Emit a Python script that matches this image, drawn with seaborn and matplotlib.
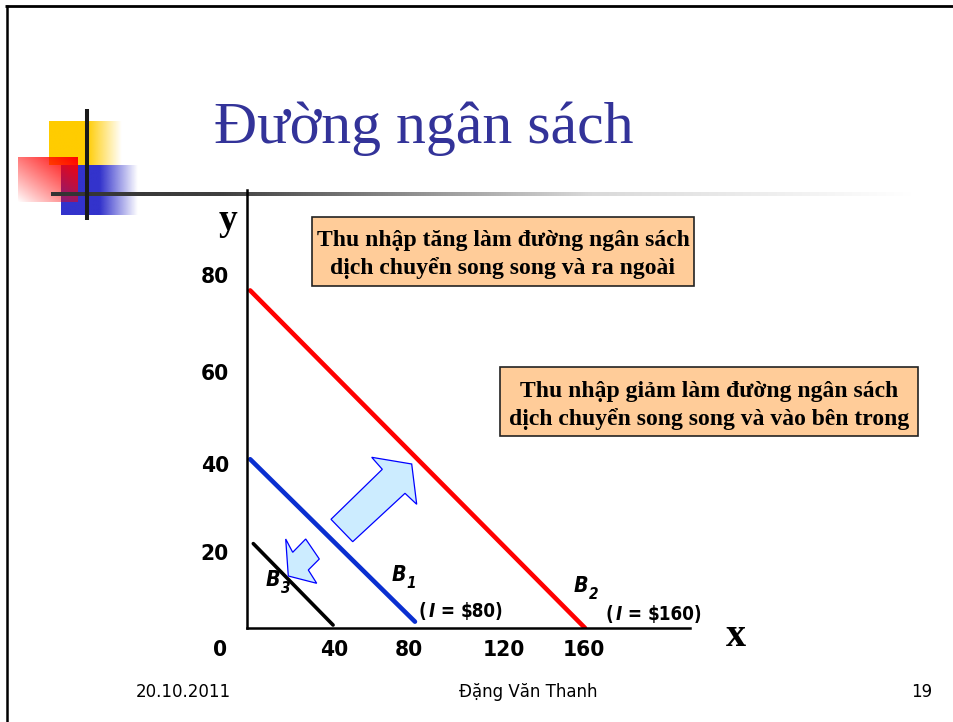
import numpy as np
import pandas as pd
import matplotlib
matplotlib.use("Agg")
import matplotlib.pyplot as plt
import seaborn as sns
from matplotlib import font_manager as fm
from matplotlib.patches import Polygon, Rectangle
from matplotlib.lines import Line2D
from matplotlib.transforms import ScaledTranslation

# ---------------- data ----------------
b1_x = [1.5, 80.0]
b1_y = [40.0, 1.5]
b2_x = [1.5, 161.0]
b2_y = [80.0, 0.0]
b3_x = [3.0, 41.0]
b3_y = [20.0, 0.7]
line_names = ["B1", "B2", "B3"]
line_colors = ["#0a2fd0", "#ff0000", "#000000"]
x_ticks = [40, 80, 120, 160]
y_ticks = [20, 40, 60, 80]
income_b1 = "$80)"
income_b2 = "$160)"
title_text = "Đường ngân sách"
box1_lines = ["Thu nhập tăng làm đường ngân sách", "dịch chuyển song song và ra ngoài"]
box2_lines = ["Thu nhập giảm làm đường ngân sách", "dịch chuyển song song và vào bên trong"]
footer_left = "20.10.2011"
footer_mid = "Đặng Văn Thanh"
footer_right = "19"

df = pd.DataFrame({
    "x": b1_x + b2_x + b3_x,
    "y": b1_y + b2_y + b3_y,
    "line": [line_names[0]] * 2 + [line_names[1]] * 2 + [line_names[2]] * 2,
})

sns.set_theme(style="white")
plt.rcParams["font.family"] = ["DejaVu Sans"]
plt.rcParams["text.color"] = "black"
plt.rcParams["xtick.color"] = "black"
plt.rcParams["ytick.color"] = "black"

# pick a condensed bold sans if one is installed
ttf = fm.fontManager.ttflist
names = {f.name for f in ttf}
NARROW = dict(family=["Liberation Sans", "DejaVu Sans"])
nscale = 0.9
if "Liberation Sans Narrow" in names:
    NARROW = dict(family=["Liberation Sans Narrow", "DejaVu Sans"])
    nscale = 1.0
else:
    cond = [f for f in ttf if f.name == "DejaVu Sans" and str(f.stretch) in ("condensed", "semi-condensed", "75", "87")]
    if cond:
        NARROW = dict(family=["DejaVu Sans"], fontstretch="condensed")
        nscale = 0.9
SERIF = ["Liberation Serif", "DejaVu Serif"]

W, H = 954, 722
fig = plt.figure(figsize=(W / 100, H / 100), dpi=100)
fig.patch.set_facecolor("white")

# ---------------- background decorations (pixel coords) ----------------
bg = fig.add_axes([0, 0, 1, 1], zorder=0)
bg.set_xlim(0, W)
bg.set_ylim(H, 0)
bg.axis("off")


def hgrad(ax, x0, x1, y0, y1, rgb, solid_to, z):
    n = 200
    xs = np.linspace(x0, x1, n)
    a = np.clip((x1 - xs) / (x1 - solid_to), 0, 1)
    img = np.zeros((1, n, 4))
    img[..., :3] = rgb
    img[0, :, 3] = a
    ax.imshow(img, extent=(x0, x1, y1, y0), aspect="auto", zorder=z, interpolation="bilinear")


hgrad(bg, 49, 122, 121, 165, (1.0, 0.8, 0.0), 87, 1)
hgrad(bg, 61, 138, 165, 215, (0.2, 0.2, 0.8), 100, 2)
n = 100
u = np.linspace(0, 1, n)[None, :]
v = np.linspace(0, 1, n)[:, None]
img = np.zeros((n, n, 4))
img[..., 0] = 1.0
img[..., 3] = np.clip((u + (1 - v)) / 2, 0, 1) ** 0.9
bg.imshow(img, extent=(18, 78, 202, 157), aspect="auto", zorder=3, interpolation="bilinear")

n = 400
xs = np.linspace(51, 912, n)
g = np.interp(xs, [51, 220, 590, 912], [0.2, 0.25, 0.85, 1.0])
img = np.ones((1, n, 4))
img[0, :, 0] = g
img[0, :, 1] = g
img[0, :, 2] = g
bg.imshow(img, extent=(51, 912, 196, 192), aspect="auto", zorder=4, interpolation="bilinear")
bg.add_line(Line2D([87, 87], [109, 220], color="#1a1a1a", lw=2.9, zorder=5, solid_capstyle="butt"))
bg.add_line(Line2D([5, 954], [6, 6], color="black", lw=2.0, zorder=5, solid_capstyle="butt"))
bg.add_line(Line2D([7, 7], [5, 722], color="black", lw=1.8, zorder=5, solid_capstyle="butt"))
bg.set_xlim(0, W)
bg.set_ylim(H, 0)

# ---------------- main chart ----------------
ax = fig.add_axes([247 / W, (H - 628) / H, (690 - 247) / W, (628 - 190) / H], zorder=1)
ax.patch.set_alpha(0)
sns.lineplot(data=df, x="x", y="y", hue="line", palette=dict(zip(line_names, line_colors)),
             estimator=None, sort=False, legend=False, ax=ax, linewidth=3.3)
ax.lines[2].set_linewidth(2.6)
ax.set_xlim(0, 211)
ax.set_ylim(0, 103.8)
for s in ["top", "right"]:
    ax.spines[s].set_visible(False)
for s in ["left", "bottom"]:
    ax.spines[s].set_linewidth(1.8)
    ax.spines[s].set_color("black")
ax.set_xticks(x_ticks)
ax.set_xticklabels([str(v) for v in x_ticks])
ax.set_yticks(y_ticks)
ax.set_yticklabels([str(v) for v in y_ticks])
ax.tick_params(axis="x", length=0, pad=9)
ax.tick_params(axis="y", length=0, pad=13)
ax.set_xlabel("")
ax.set_ylabel("")
# small hand-placement offsets (pixels) of the labels as drawn on the slide
x_off = {40: 3, 80: -6, 120: 5, 160: 1}
y_off = {20: -8, 40: -5, 60: 3, 80: 15}
for lbl, v in zip(ax.get_xticklabels(), x_ticks):
    lbl.set_fontweight("bold")
    lbl.set_fontsize(18 * nscale)
    lbl.set_family(NARROW["family"])
    if "fontstretch" in NARROW:
        lbl.set_fontstretch(NARROW["fontstretch"])
    lbl.set_transform(lbl.get_transform() + ScaledTranslation(x_off[v] / 100, 0, fig.dpi_scale_trans))
for lbl, v in zip(ax.get_yticklabels(), y_ticks):
    lbl.set_fontweight("bold")
    lbl.set_fontsize(18 * nscale)
    lbl.set_family(NARROW["family"])
    if "fontstretch" in NARROW:
        lbl.set_fontstretch(NARROW["fontstretch"])
    lbl.set_transform(lbl.get_transform() + ScaledTranslation(0, y_off[v] / 100, fig.dpi_scale_trans))


def px2data(px, py):
    return (px - 247) / 2.1, (628 - py) / 4.22


def blabel(px, py, main, sub, fs=17):
    x, y = px2data(px, py)
    t = ax.text(x, y, main, fontsize=fs * nscale, fontweight="bold", fontstyle="italic",
                ha="left", va="baseline", **NARROW)
    ax.annotate(sub, xy=(1, 0), xycoords=t, xytext=(0, -4), textcoords="offset points",
                fontsize=fs * 0.72 * nscale, fontweight="bold", fontstyle="italic",
                ha="left", va="bottom", **NARROW)


blabel(392, 581, "B", "1")
blabel(574, 592, "B", "2")
blabel(266, 586, "B", "3")


def income_label(px, py, amount, fs=15):
    x, y = px2data(px, py)
    t1 = ax.text(x, y, "(", fontsize=fs * nscale, fontweight="bold", ha="left", va="baseline", **NARROW)
    t2 = ax.annotate("I", xy=(1, 0), xycoords=t1, xytext=(1.5, 0), textcoords="offset points",
                     fontsize=fs * nscale, fontweight="bold", fontstyle="italic",
                     ha="left", va="bottom", **NARROW)
    t3 = ax.annotate(" = ", xy=(1, 0), xycoords=t2, fontsize=fs * nscale, fontweight="bold",
                     ha="left", va="bottom", **NARROW)
    ax.annotate(amount.replace("$", "\\$"), xy=(1, 0), xycoords=t3, fontsize=fs * nscale,
                fontweight="bold", ha="left", va="bottom", **NARROW)


income_label(419, 617, income_b1)
income_label(606, 620, income_b2)

# ---------------- overlay: title, boxes, arrows, footer ----------------
ov = fig.add_axes([0, 0, 1, 1], zorder=3)
ov.patch.set_alpha(0)
ov.set_xlim(0, W)
ov.set_ylim(H, 0)
ov.axis("off")

ov.text(424, 143, title_text, ha="center", va="baseline", fontsize=43, color="#333399", family=SERIF)

ov.text(228, 221, "y", ha="center", va="center", fontsize=27, fontweight="bold", family=SERIF)
ov.text(736, 636, "x", ha="center", va="center", fontsize=29, fontweight="bold", family=SERIF)
ov.text(220, 650, "0", ha="center", va="center", fontsize=18 * nscale, fontweight="bold", **NARROW)

ov.add_patch(Rectangle((312, 217), 382, 69, facecolor="#FFCC99", edgecolor="#222222", lw=1.2))
ov.text(503, 246, box1_lines[0], ha="center", va="baseline", fontsize=17, fontweight="bold", family=SERIF)
ov.text(503, 274, box1_lines[1], ha="center", va="baseline", fontsize=17, fontweight="bold", family=SERIF)
ov.add_patch(Rectangle((500, 367), 418, 69, facecolor="#FFCC99", edgecolor="#222222", lw=1.2))
ov.text(709, 397, box2_lines[0], ha="center", va="baseline", fontsize=17, fontweight="bold", family=SERIF)
ov.text(709, 425, box2_lines[1], ha="center", va="baseline", fontsize=17, fontweight="bold", family=SERIF)

big_arrow = [(371.7, 457.3), (382.3, 469.3), (331, 519.3), (352.7, 541.7), (405, 493.3),
             (416.7, 504.3), (411.7, 464)]
small_arrow = [(285.7, 539), (292.7, 552.3), (305.7, 539), (319.3, 559), (308.3, 570),
               (316.7, 583.3), (288.3, 576)]
for poly in (big_arrow, small_arrow):
    ov.add_patch(Polygon(poly, closed=True, facecolor="#CCECFF", edgecolor="#0000ff", lw=0.9))

ov.text(183, 692, footer_left, ha="center", va="center", fontsize=12)
ov.text(528, 692, footer_mid, ha="center", va="center", fontsize=12)
ov.text(922, 692, footer_right, ha="center", va="center", fontsize=12)

fig.savefig("out.png", dpi=100)
